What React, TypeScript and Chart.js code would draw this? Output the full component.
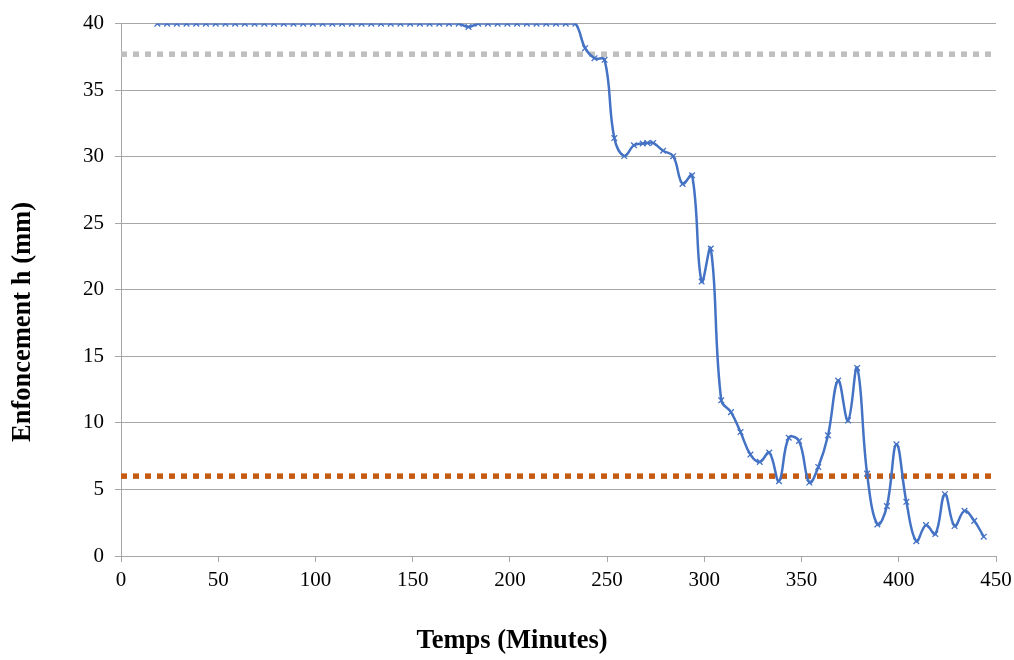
import React, { useEffect, useRef } from "react";
import { Chart, registerables } from "chart.js";

Chart.register(...registerables);

// Time (minutes) of each measurement
const times: number[] = [
  18.7, 23.7, 28.7, 33.7, 38.7, 43.7, 48.7, 53.7, 58.7, 63.7,
  68.7, 73.7, 78.7, 83.7, 88.7, 93.7, 98.7, 103.7, 108.7, 113.7,
  118.7, 123.7, 128.7, 133.7, 138.7, 143.7, 148.7, 153.7, 158.7, 163.7,
  168.7, 173.7, 178.7, 183.7, 188.7, 193.7, 198.7, 203.7, 208.7, 213.7,
  218.7, 223.7, 228.7, 233.7, 238.7, 243.5, 248.7, 253.7, 258.8, 263.8,
  268.3, 270.7, 273.7, 278.8, 284.0, 288.8, 293.7, 298.6, 303.3, 308.7,
  313.7, 318.6, 323.7, 328.5, 333.4, 338.4, 343.4, 348.7, 354.0, 358.6,
  363.6, 368.8, 373.9, 378.6, 383.7, 389.0, 393.9, 398.8, 403.9, 409.0,
  414.0, 418.8, 423.7, 428.7, 433.8, 438.8, 443.7,
];

// Enfoncement h (mm)
const enfoncement: number[] = [
  40, 40, 40, 40, 40, 40, 40, 40, 40, 40,
  40, 40, 40, 40, 40, 40, 40, 40, 40, 40,
  40, 40, 40, 40, 40, 40, 40, 40, 40, 40,
  40, 40, 39.75, 40, 40, 40, 40, 40, 40, 40,
  40, 40, 40, 40, 38.15, 37.4, 37.28, 31.4, 30.05, 30.86,
  30.99, 31.03, 31.03, 30.45, 30.04, 27.96, 28.6, 20.62, 23.1, 11.7,
  10.81, 9.31, 7.62, 7.07, 7.77, 5.62, 8.89, 8.64, 5.52, 6.69,
  9.06, 13.18, 10.19, 14.13, 6.19, 2.37, 3.75, 8.39, 4.07, 1.12,
  2.32, 1.65, 4.64, 2.25, 3.39, 2.64, 1.45,
];

// Reference (limit) lines
const limitX: number[] = [0, 450];
const upperLimit: number[] = [37.7, 37.7];
const lowerLimit: number[] = [6, 6];

const xTitle = "Temps (Minutes)";
const yTitle = "Enfoncement h (mm)";

const FONT = '"Liberation Serif", "Times New Roman", serif';

const titlesPlugin = {
  id: "excelTitles",
  afterDraw(chart: any) {
    const ctx = chart.ctx as CanvasRenderingContext2D;
    ctx.save();
    ctx.fillStyle = "#000000";
    ctx.font = `bold 26.5px ${FONT}`;
    ctx.textAlign = "center";
    ctx.textBaseline = "alphabetic";
    ctx.fillText(xTitle, 512, 648);
    ctx.translate(29.5, 322);
    ctx.rotate(-Math.PI / 2);
    ctx.fillText(yTitle, 0, 0);
    ctx.restore();
  },
};

export default function App() {
  const canvasRef = useRef<HTMLCanvasElement | null>(null);

  useEffect(() => {
    if (!canvasRef.current) return;
    const chart = new Chart(canvasRef.current, {
      type: "line",
      data: {
        datasets: [
          {
            label: "Enfoncement",
            data: times.map((t, i) => ({ x: t, y: enfoncement[i] })),
            borderColor: "#4472C4",
            backgroundColor: "#4472C4",
            borderWidth: 2.5,
            tension: 0.4,
            pointStyle: "crossRot",
            pointRadius: 4,
            pointBorderWidth: 1.3,
            pointBorderColor: "#4472C4",
            fill: false,
          },
          {
            label: "Limite haute",
            data: limitX.map((x, i) => ({ x, y: upperLimit[i] })),
            borderColor: "#BFBFBF",
            borderWidth: 5.5,
            borderDash: [6, 6],
            pointRadius: 0,
            fill: false,
          },
          {
            label: "Limite basse",
            data: limitX.map((x, i) => ({ x, y: lowerLimit[i] })),
            borderColor: "#C55A11",
            borderWidth: 5.5,
            borderDash: [6, 6],
            pointRadius: 0,
            fill: false,
          },
        ],
      },
      options: {
        animation: false,
        responsive: true,
        maintainAspectRatio: false,
        layout: { padding: { left: 0, right: 18, top: 22, bottom: 0 } },
        plugins: {
          legend: { display: false },
          tooltip: { enabled: false },
          title: { display: false },
        },
        scales: {
          x: {
            type: "linear",
            min: 0,
            max: 450,
            ticks: {
              stepSize: 50,
              color: "#000000",
              padding: 6,
              font: { family: FONT, size: 21 },
            },
            grid: {
              drawOnChartArea: false,
              drawTicks: true,
              tickLength: 6,
              color: "#A6A6A6",
              lineWidth: 1,
            },
            border: { display: true, color: "#A6A6A6", width: 1 },
            afterFit: (scale: any) => {
              scale.height = 104;
              scale.paddingRight = 0;
              scale.paddingLeft = 0;
            },
          },
          y: {
            type: "linear",
            min: 0,
            max: 40,
            ticks: {
              stepSize: 5,
              color: "#000000",
              padding: 11,
              font: { family: FONT, size: 21 },
            },
            grid: {
              drawOnChartArea: true,
              drawTicks: true,
              tickLength: 6,
              color: "#A6A6A6",
              lineWidth: 1,
            },
            border: { display: true, color: "#A6A6A6", width: 1 },
            afterFit: (scale: any) => {
              scale.width = 121;
            },
          },
        },
      },
      plugins: [titlesPlugin],
    });
    return () => chart.destroy();
  }, []);

  return (
    <div
      style={{
        position: "absolute",
        left: 0,
        top: 0,
        width: 1014,
        height: 660,
        background: "#ffffff",
      }}
    >
      <canvas ref={canvasRef} />
    </div>
  );
}
